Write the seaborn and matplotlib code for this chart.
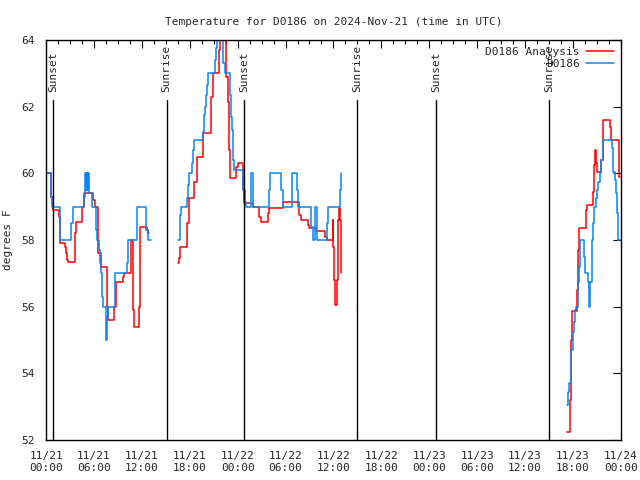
import numpy as np
import pandas as pd
import matplotlib
matplotlib.use("Agg")
import matplotlib.pyplot as plt
from matplotlib.lines import Line2D
from matplotlib.ticker import MultipleLocator
import seaborn as sns

# hours since 2024-11-21 00:00 UTC, temperature in degrees F
obs_hours_1 = [0.08, 0.58, 0.67, 0.75, 1.71, 3.09, 3.34, 4.76, 4.92, 5.01, 5.09, 5.17, 5.26, 5.34,
               5.80, 6.22, 6.43, 6.64, 6.76, 6.89, 6.97, 7.14, 7.47, 7.55, 7.68, 7.80, 8.64,
               10.10, 10.27, 11.35, 12.52, 12.77, 13.10]
obs_temps_1 = [60.0, 59.75, 59.3, 59.0, 58.0, 58.5, 59.0, 59.3, 60.0, 59.5, 60.0, 59.5, 60.0, 59.4,
               59.0, 58.3, 58.0, 57.7, 57.3, 57.0, 56.3, 56.0, 55.3, 55.0, 55.7, 56.0, 57.0,
               57.3, 58.0, 59.0, 58.3, 58.0, 58.0]

obs_hours_2 = [16.53, 16.78, 16.86, 17.53, 17.61, 17.82, 17.91, 18.24, 18.45, 18.57, 19.70, 19.83,
               19.91, 20.04, 20.20, 20.33, 21.16, 21.25, 21.37, 21.58, 22.12, 22.21, 22.41, 22.62,
               23.04, 23.17, 23.29, 23.37, 23.46, 23.58, 23.71, 24.63, 24.96, 25.04, 25.67, 25.88,
               25.96, 27.88, 28.05, 29.43, 29.64, 30.85, 31.47, 31.60, 33.23, 33.39, 33.68, 33.93,
               35.23, 35.35, 36.81, 36.94, 37.0]
obs_temps_2 = [58.0, 58.75, 59.0, 59.0, 59.25, 59.65, 60.0, 60.3, 60.7, 61.0, 61.25, 61.75,
               62.0, 62.35, 62.65, 63.0, 63.4, 63.75, 64.0, 64.0, 63.6, 63.3, 63.0, 63.0,
               62.35, 61.7, 61.3, 60.7, 60.4, 60.1, 60.1, 59.5, 59.15, 59.0, 60.0, 59.5,
               59.0, 59.5, 60.0, 59.5, 59.0, 60.0, 59.5, 59.0, 58.4, 58.0, 59.0, 58.0,
               58.5, 59.0, 59.5, 60.0, 60.0]

obs_hours_3 = [65.28, 65.41, 65.53, 65.70, 65.82, 65.95, 66.12, 66.24, 66.37, 66.66, 66.78, 66.87,
               66.95, 67.37, 67.49, 67.91, 68.04, 68.20, 68.33, 68.45, 68.54, 68.66, 68.87, 69.04,
               69.16, 69.37, 69.58, 69.79, 70.92, 71.04, 71.25, 71.46, 71.58, 71.71, 71.88]
obs_temps_3 = [53.05, 53.45, 53.7, 54.0, 54.7, 55.25, 55.55, 55.9, 56.0, 56.75, 57.2, 57.7,
               58.0, 57.5, 57.0, 56.75, 56.0, 56.75, 57.5, 58.0, 58.5, 59.0, 59.25, 59.5,
               59.75, 60.0, 60.4, 61.0, 60.75, 60.05, 59.8, 59.4, 58.8, 58.0, 58.0]

ana_hours_1 = [0.08, 0.67, 0.84, 1.59, 1.71, 1.79, 2.34, 2.50, 2.67, 2.75, 3.59, 3.80, 4.55, 4.72,
               5.93, 6.09, 6.55, 6.85, 7.64, 7.80, 8.56, 8.72, 9.60, 9.81, 10.60, 10.85, 10.94,
               11.02, 11.60, 11.73, 12.60, 12.77, 12.94]
ana_temps_1 = [60.0, 59.3, 58.9, 58.7, 58.25, 57.9, 57.8, 57.6, 57.4, 57.35, 58.2, 58.55, 59.0, 59.4,
               59.2, 59.0, 57.6, 57.2, 56.0, 55.6, 56.0, 56.75, 56.9, 57.0, 58.0, 57.0, 55.9,
               55.4, 56.0, 58.4, 58.3, 58.2, 58.2]

ana_hours_2 = [16.53, 16.66, 16.78, 17.70, 17.86, 18.57, 18.87, 19.70, 20.66, 20.95, 21.66, 21.79,
               22.54, 22.83, 22.96, 23.04, 23.79, 24.04, 24.63, 24.79, 25.88, 26.71, 26.88, 27.80,
               27.97, 29.72, 31.72, 31.89, 32.77, 32.89, 33.81, 34.94, 35.14, 35.90, 35.98, 36.06,
               36.14, 36.48, 36.60, 36.73, 36.81, 36.94, 37.0]
ana_temps_2 = [57.3, 57.45, 57.8, 58.5, 59.25, 59.75, 60.5, 61.2, 62.3, 63.0, 63.7, 64.0,
               62.9, 62.15, 60.7, 59.85, 60.2, 60.3, 59.5, 59.1, 59.0, 58.7, 58.55, 58.8,
               58.95, 59.15, 58.75, 58.6, 58.45, 58.35, 58.28, 58.1, 58.0, 58.6, 57.8, 56.8,
               56.05, 56.8, 58.6, 58.95, 58.6, 57.0, 57.0]

ana_hours_3 = [65.28, 65.61, 65.70, 65.82, 65.91, 66.53, 66.66, 66.78, 67.70, 67.79, 68.54, 68.66,
               68.79, 68.87, 69.04, 69.58, 69.71, 69.79, 70.62, 70.75, 70.83, 71.79, 71.88]
ana_temps_3 = [52.25, 53.2, 54.0, 55.0, 55.87, 56.5, 57.7, 58.35, 58.9, 59.05, 59.45, 60.25,
               60.7, 60.3, 60.05, 60.4, 61.2, 61.6, 61.4, 61.15, 61.0, 59.9, 59.9]

sunset_hours = [0.88, 24.79, 48.84]
sunrise_hours = [15.09, 38.94, 62.99]

tick_labels = ["11/21\n00:00", "11/21\n06:00", "11/21\n12:00", "11/21\n18:00",
               "11/22\n00:00", "11/22\n06:00", "11/22\n12:00", "11/22\n18:00",
               "11/23\n00:00", "11/23\n06:00", "11/23\n12:00", "11/23\n18:00",
               "11/24\n00:00"]


def to_frame(segments):
    parts = []
    for i, (h, t) in enumerate(segments):
        parts.append(pd.DataFrame({"hour": h, "temp": t, "seg": i}))
    return pd.concat(parts, ignore_index=True)


obs_df = to_frame([(obs_hours_1, obs_temps_1), (obs_hours_2, obs_temps_2), (obs_hours_3, obs_temps_3)])
ana_df = to_frame([(ana_hours_1, ana_temps_1), (ana_hours_2, ana_temps_2), (ana_hours_3, ana_temps_3)])

sns.set_style("white")
plt.rcParams["font.family"] = ["DejaVu Sans Mono"]
plt.rcParams["font.size"] = 8

red = "#ff0000"
blue = "#0a84f5"

fig, ax = plt.subplots(figsize=(6.4, 4.8), dpi=100)
fig.subplots_adjust(left=0.072, right=0.970, top=0.917, bottom=0.083)

sns.lineplot(data=ana_df, x="hour", y="temp", units="seg", estimator=None, sort=False,
             color=red, lw=1.1, drawstyle="steps-post", ax=ax)
sns.lineplot(data=obs_df, x="hour", y="temp", units="seg", estimator=None, sort=False,
             color=blue, lw=1.1, drawstyle="steps-post", ax=ax)

# sunset / sunrise markers
for h in sunset_hours:
    ax.plot([h, h], [52, 62.2], color="black", lw=1)
    ax.text(h, 62.45, "Sunset", rotation=90, ha="center", va="bottom", fontsize=8)
for h in sunrise_hours:
    ax.plot([h, h], [52, 62.2], color="black", lw=1)
    ax.text(h, 62.45, "Sunrise", rotation=90, ha="center", va="bottom", fontsize=8)

ax.set_xlim(0, 72)
ax.set_ylim(52, 64)
ax.set_xticks(np.arange(0, 73, 6))
ax.set_xticklabels(tick_labels)
ax.xaxis.set_minor_locator(MultipleLocator(1.5))
ax.set_yticks(np.arange(52, 65, 2))
ax.tick_params(which="both", direction="in", top=True, right=True, color="black")
ax.tick_params(which="major", length=6, width=0.8)
ax.tick_params(which="minor", length=3, width=0.8)
ax.tick_params(axis="x", which="major", pad=8)
ax.tick_params(axis="y", which="major", pad=8)
for s in ax.spines.values():
    s.set_color("black")
    s.set_linewidth(1)

ax.set_xlabel("")
ax.set_ylabel("degrees F", labelpad=6)
ax.set_title("Temperature for D0186 on 2024-Nov-21 (time in UTC)", fontsize=8, pad=11)

handles = [Line2D([], [], color=red, lw=1.1), Line2D([], [], color=blue, lw=1.1)]
ax.legend(handles, ["D0186 Analysis", "D0186"], loc="upper right", frameon=False,
          markerfirst=False, handlelength=2.5, borderaxespad=0.2, labelspacing=0.25,
          handletextpad=0.6, fontsize=8)

fig.savefig("out.png", dpi=100)
